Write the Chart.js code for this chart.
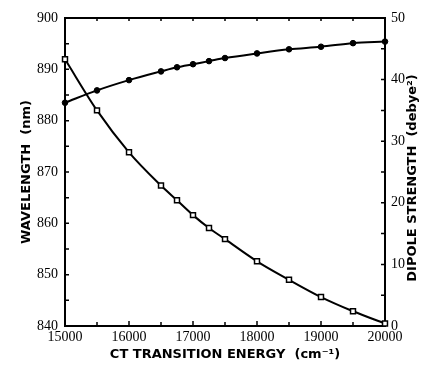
<!DOCTYPE html>
<html>
<head>
<meta charset="utf-8">
<script src="https://cdn.jsdelivr.net/npm/chart.js@4/dist/chart.umd.min.js"></script>
<style>
  html, body { margin: 0; padding: 0; background: #fff; }
  #wrap { width: 426px; height: 369px; }
</style>
</head>
<body>
<div id="wrap"><canvas id="chart" width="426" height="369"></canvas></div>
<script>
// CT transition energy (cm-1)
const energy = [15000, 15500, 16000, 16500, 16750, 17000, 17250, 17500, 18000, 18500, 19000, 19500, 20000];
// wavelength (nm), left axis - filled markers
const wavelength = [883.5, 885.9, 887.9, 889.6, 890.4, 891.0, 891.6, 892.2, 893.1, 893.9, 894.4, 895.1, 895.4];
// dipole strength (debye^2), right axis - open squares
const dipole = [43.3, 35.0, 28.2, 22.8, 20.4, 18.0, 15.9, 14.1, 10.5, 7.5, 4.7, 2.4, 0.4];

const xTitle = 'CT TRANSITION ENERGY  (cm\u207B\u00B9)';
const yTitle = 'WAVELENGTH  (nm)';
const y2Title = 'DIPOLE STRENGTH  (debye\u00B2)';

const tickFont = { family: 'Liberation Serif', size: 14 };
const titleFont = { family: 'DejaVu Sans', size: 13, weight: 'bold' };

// inward tick marks + top frame line + right title
const framePlugin = {
  id: 'frame',
  afterDraw(chart) {
    const ctx = chart.ctx;
    const a = chart.chartArea;
    const { x, y, y2 } = chart.scales;
    ctx.save();
    ctx.strokeStyle = '#000';
    ctx.lineWidth = 2;
    ctx.beginPath();
    ctx.moveTo(a.left - 1, a.top);
    ctx.lineTo(a.right + 1, a.top);
    ctx.stroke();

    ctx.lineWidth = 1.5;
    ctx.beginPath();
    for (let v = 15500; v < 20000; v += 500) {
      const px = x.getPixelForValue(v);
      const len = v % 1000 === 0 ? 5 : 4;
      ctx.moveTo(px, a.bottom);
      ctx.lineTo(px, a.bottom - len);
      ctx.moveTo(px, a.top);
      ctx.lineTo(px, a.top + 3);
    }
    for (let v = 845; v < 900; v += 5) {
      const py = y.getPixelForValue(v);
      ctx.moveTo(a.left, py);
      ctx.lineTo(a.left + 4, py);
    }
    for (let v = 5; v < 50; v += 5) {
      const py = y2.getPixelForValue(v);
      ctx.moveTo(a.right, py);
      ctx.lineTo(a.right - 4, py);
    }
    ctx.stroke();

    // right axis title reads bottom-to-top
    ctx.fillStyle = '#000';
    ctx.font = 'bold 13px "DejaVu Sans"';
    ctx.textAlign = 'center';
    ctx.textBaseline = 'middle';
    ctx.translate(413, (a.top + a.bottom) / 2 + 6);
    ctx.rotate(-Math.PI / 2);
    ctx.fillText(y2Title, 0, 0);
    ctx.restore();
  }
};

const plain = v => String(v);

new Chart(document.getElementById('chart'), {
  type: 'line',
  data: {
    datasets: [
      {
        label: 'Wavelength',
        data: energy.map((e, i) => ({ x: e, y: wavelength[i] })),
        yAxisID: 'y',
        borderColor: '#000',
        borderWidth: 2,
        backgroundColor: '#000',
        pointStyle: 'circle',
        pointRadius: 2.8,
        pointBorderWidth: 1,
        cubicInterpolationMode: 'monotone',
        clip: false
      },
      {
        label: 'Dipole strength',
        data: energy.map((e, i) => ({ x: e, y: dipole[i] })),
        yAxisID: 'y2',
        borderColor: '#000',
        borderWidth: 2,
        backgroundColor: '#fff',
        pointStyle: 'rect',
        pointRadius: 3.5,
        pointBorderWidth: 1.5,
        cubicInterpolationMode: 'monotone',
        clip: false
      }
    ]
  },
  options: {
    responsive: false,
    animation: false,
    layout: { padding: { top: 18, left: 0, right: 0, bottom: 0 } },
    plugins: { legend: { display: false }, tooltip: { enabled: false } },
    scales: {
      x: {
        type: 'linear',
        min: 15000,
        max: 20000,
        afterFit(s) { s.height = 43; },
        ticks: { stepSize: 1000, color: '#000', font: tickFont, padding: 3, maxRotation: 0, callback: plain },
        grid: { drawOnChartArea: false, drawTicks: false },
        border: { color: '#000', width: 2 },
        title: { display: true, text: xTitle, color: '#000', font: titleFont, padding: { bottom: 7 } }
      },
      y: {
        position: 'left',
        min: 840,
        max: 900,
        afterFit(s) { s.width = 65; },
        ticks: { stepSize: 10, color: '#000', font: tickFont, padding: 7, callback: plain },
        grid: { drawOnChartArea: false, drawTicks: false },
        border: { color: '#000', width: 2 },
        title: { display: true, text: yTitle, color: '#000', font: titleFont, padding: { top: 19 } }
      },
      y2: {
        position: 'right',
        min: 0,
        max: 50,
        afterFit(s) { s.width = 41; },
        ticks: { stepSize: 10, color: '#000', font: tickFont, padding: 6, callback: plain },
        grid: { drawOnChartArea: false, drawTicks: false },
        border: { color: '#000', width: 2 }
      }
    }
  },
  plugins: [framePlugin]
});
</script>
</body>
</html>
